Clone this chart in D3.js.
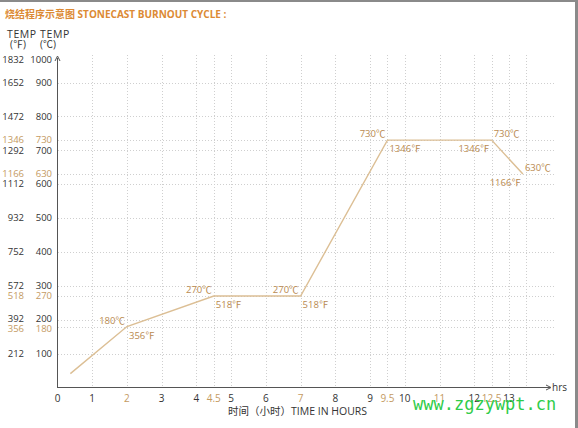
<!DOCTYPE html>
<html><head><meta charset="utf-8">
<script src="https://cdn.jsdelivr.net/npm/d3@7"></script>
<style>
body{margin:0;background:#fff;}
svg{display:block;font-family:"Open Sans","Noto Sans CJK SC",sans-serif;}
</style></head>
<body>
<svg id="c" width="578" height="428"></svg>
<script>
// data
const hours = [0.37, 2, 4.5, 7, 9.5, 12.5, 13.4];
const tempC = [41, 180, 270, 270, 730, 730, 630];
const yTicksC = [1000, 900, 800, 730, 700, 630, 600, 500, 400, 300, 270, 200, 180, 100];
const yTicksF = [1832, 1652, 1472, 1346, 1292, 1166, 1112, 932, 752, 572, 518, 392, 356, 212];
const yHighlight = [730, 630, 270, 180];
const xTicks = [0, 1, 2, 3, 4, 4.5, 5, 6, 7, 8, 9, 9.5, 10, 11, 12, 12.5, 13];
const xHighlight = [2, 4.5, 7, 9.5, 11, 12.5];
const xGridExtra = [13.5];
const annotations = [
  {h: 2, c: 180, t: "180℃", pos: "lt"}, {h: 2, c: 180, t: "356℉", pos: "rb"},
  {h: 4.5, c: 270, t: "270℃", pos: "lt"}, {h: 4.5, c: 270, t: "518℉", pos: "rb"},
  {h: 7, c: 270, t: "270℃", pos: "lt"}, {h: 7, c: 270, t: "518℉", pos: "rb"},
  {h: 9.5, c: 730, t: "730℃", pos: "lt"}, {h: 9.5, c: 730, t: "1346℉", pos: "rb"},
  {h: 12.5, c: 730, t: "730℃", pos: "rt"}, {h: 12.5, c: 730, t: "1346℉", pos: "lb"},
  {h: 13.4, c: 630, t: "630℃", pos: "rt"}, {h: 13.4, c: 630, t: "1166℉", pos: "lb"}
];

const svg = d3.select("#c");
const x = d3.scaleLinear().domain([0, 13]).range([57.5, 509]);
const y = d3.scaleLinear().domain([0, 900, 1000]).range([387.5, 82.5, 60]);
const textCol = "#333", hiCol = "#c49a62", lineCol = "#dcbf95", gridCol = "#cfcfcf";
const annCol = "#b98a4f";
// small label nudges to separate crowded tick labels
const nudge = v => v === 200 ? -1.5 : v === 180 ? 2.5 : 0;

// borders
svg.append("rect").attr("x", 0).attr("y", 0).attr("width", 578).attr("height", 2).attr("fill", "#8a8a8a");
svg.append("rect").attr("x", 575).attr("y", 0).attr("width", 3).attr("height", 428).attr("fill", "#8a8a8a");

// title
svg.append("text").attr("x", 5).attr("y", 18).attr("fill", "#dc8a34")
  .attr("font-size", 10).attr("font-weight", "bold").text("烧结程序示意图 STONECAST BURNOUT CYCLE :");

// headers
svg.append("text").attr("x", 7).attr("y", 38).attr("fill", textCol).attr("font-size", 10.5)
  .attr("letter-spacing", 0.6).text("TEMP TEMP");
svg.append("text").attr("x", 10).attr("y", 48).attr("fill", textCol).attr("font-size", 10).text("(℉)");
svg.append("text").attr("x", 40).attr("y", 48).attr("fill", textCol).attr("font-size", 10).text("(℃)");

// horizontal gridlines
svg.append("g").selectAll("line").data(yTicksC.filter(d => d !== 1000)).join("line")
  .attr("x1", 58).attr("x2", 556).attr("y1", d => Math.round(y(d)) + 0.5).attr("y2", d => Math.round(y(d)) + 0.5)
  .attr("stroke", gridCol).attr("stroke-width", 1).attr("stroke-dasharray", "1,2");

// vertical gridlines
svg.append("g").selectAll("line").data(xTicks.filter(d => d !== 0).concat(xGridExtra)).join("line")
  .attr("x1", d => Math.round(x(d)) + 0.5).attr("x2", d => Math.round(x(d)) + 0.5)
  .attr("y1", 55).attr("y2", 387)
  .attr("stroke", gridCol).attr("stroke-width", 1).attr("stroke-dasharray", "1,2");

// y labels
const yl = svg.append("g").attr("font-size", 9.5);
yl.selectAll("text.c").data(yTicksC).join("text").attr("class", "c")
  .attr("x", 52).attr("y", d => y(d) + nudge(d)).attr("dy", "0.35em").attr("text-anchor", "end")
  .attr("fill", d => yHighlight.includes(d) ? hiCol : textCol).text(d => d);
yl.selectAll("text.f").data(yTicksF).join("text").attr("class", "f")
  .attr("x", 24).attr("y", (d, i) => y(yTicksC[i]) + nudge(yTicksC[i])).attr("dy", "0.35em").attr("text-anchor", "end")
  .attr("fill", (d, i) => yHighlight.includes(yTicksC[i]) ? hiCol : textCol).text(d => d);

// x labels
svg.append("g").attr("font-size", 10).selectAll("text").data(xTicks).join("text")
  .attr("x", d => x(d)).attr("y", 402).attr("text-anchor", "middle")
  .attr("fill", d => xHighlight.includes(d) ? hiCol : textCol).text(d => d);

// axes
const axCol = "#555";
svg.append("line").attr("x1", 57.5).attr("x2", 57.5).attr("y1", 58).attr("y2", 387.5).attr("stroke", axCol).attr("stroke-width", 1);
svg.append("line").attr("x1", 57).attr("x2", 550).attr("y1", 387.5).attr("y2", 387.5).attr("stroke", axCol).attr("stroke-width", 1);
svg.append("path").attr("d", "M55,61 L57.5,56 L60,61").attr("fill", "none").attr("stroke", axCol);
svg.append("path").attr("d", "M546,385 L551,387.5 L546,390").attr("fill", "none").attr("stroke", axCol);
svg.append("text").attr("x", 552).attr("y", 391).attr("font-size", 10).attr("fill", textCol).text("hrs");

// x axis title
svg.append("text").attr("x", 228).attr("y", 415).attr("font-size", 10.5).attr("fill", textCol)
  .text("时间（小时）TIME IN HOURS");

// curve
svg.append("path").datum(hours.map((h, i) => [h, tempC[i]]))
  .attr("d", d3.line().x(d => x(d[0])).y(d => y(d[1])))
  .attr("fill", "none").attr("stroke", lineCol).attr("stroke-width", 1.4);

// annotations
svg.append("g").attr("font-size", 9.5).attr("fill", annCol).selectAll("text").data(annotations).join("text")
  .attr("x", d => x(d.h) + (d.pos[0] === "l" ? -2 : 2))
  .attr("y", d => y(d.c) + (d.pos[1] === "t" ? -3 : 12))
  .attr("text-anchor", d => d.pos[0] === "l" ? "end" : "start")
  .text(d => d.t);

// watermark
svg.append("text").attr("x", 413).attr("y", 410).attr("font-family", "DejaVu Sans Mono, monospace")
  .attr("font-size", 17).attr("fill", "#2fcc4a").text("www.zgzywpt.cn");
</script>
</body></html>
